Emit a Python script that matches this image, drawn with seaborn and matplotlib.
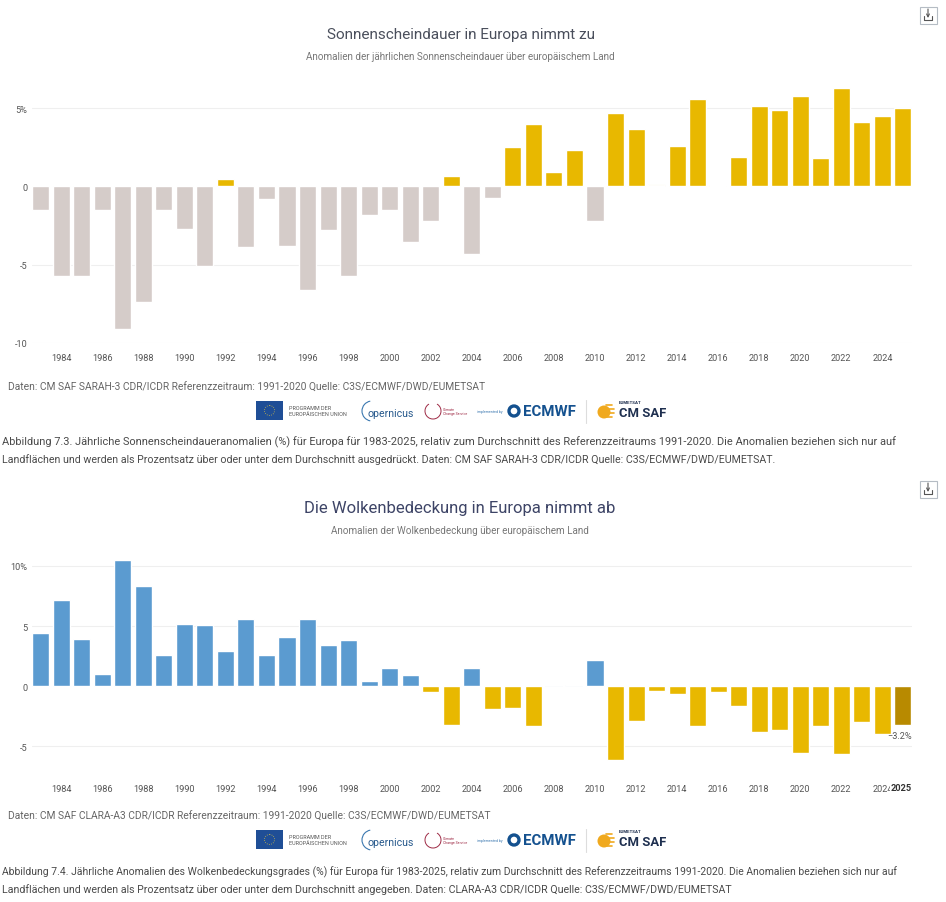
#!/usr/bin/env python
"""Sunshine duration and cloud cover anomalies over Europe, two stacked bar charts."""
import matplotlib
matplotlib.use("Agg")
import matplotlib.pyplot as plt
import pandas as pd
import seaborn as sns
from matplotlib.patches import Arc, Circle, Rectangle

W, H = 946, 903
YEARS = list(range(1983, 2026))
YEAR_TICKS = list(range(1984, 2025, 2))

SUNSHINE = [
    -1.5, -5.7, -5.7, -1.5, -9.1, -7.4, -1.5, -2.7, -5.1, 0.45, -3.9,
    -0.8, -3.8, -6.6, -2.8, -5.7, -1.8, -1.5, -3.55, -2.2, 0.65, -4.35,
    -0.75, 2.5, 4.0, 0.9, 2.35, -2.2, 4.7, 3.65, 0.06, 2.55, 5.6,
    0.05, 1.85, 5.15, 4.9, 5.75, 1.8, 6.3, 4.1, 4.5, 5.0,
]
CLOUD = [
    4.45, 7.2, 3.9, 1.0, 10.45, 8.35, 2.55, 5.2, 5.05, 2.95, 5.6,
    2.55, 4.05, 5.6, 3.4, 3.8, 0.4, 1.55, 0.9, -0.5, -3.2, 1.55,
    -1.9, -1.85, -3.35, 0.05, 0.05, 2.2, -6.15, -2.9, -0.4, -0.65, -3.3,
    -0.5, -1.65, -3.8, -3.65, -5.55, -3.3, -5.65, -3.0, -4.0, -3.2,
]

YELLOW = "#E8B800"
GREY = "#D5CCC9"
BLUE = "#5B9BD0"
DARK = "#B88A00"
GRID = "#EFEFEF"
TICK = "#555555"
FONT = "Roboto"
NARROW = ["Liberation Sans Narrow", "Roboto"]

TITLE_1 = "Sonnenscheindauer in Europa nimmt zu"
SUB_1 = "Anomalien der jährlichen Sonnenscheindauer über europäischem Land"
SOURCE_1 = "Daten: CM SAF SARAH-3 CDR/ICDR Referenzzeitraum: 1991-2020 Quelle: C3S/ECMWF/DWD/EUMETSAT"
CAPTION_1 = [
    "Abbildung 7.3. Jährliche Sonnenscheindaueranomalien (%) für Europa für 1983-2025, relativ zum Durchschnitt des Referenzzeitraums 1991-2020. Die Anomalien beziehen sich nur auf",
    "Landflächen und werden als Prozentsatz über oder unter dem Durchschnitt ausgedrückt. Daten: CM SAF SARAH-3 CDR/ICDR Quelle: C3S/ECMWF/DWD/EUMETSAT.",
]
TITLE_2 = "Die Wolkenbedeckung in Europa nimmt ab"
SUB_2 = "Anomalien der Wolkenbedeckung über europäischem Land"
SOURCE_2 = "Daten: CM SAF CLARA-A3 CDR/ICDR Referenzzeitraum: 1991-2020 Quelle: C3S/ECMWF/DWD/EUMETSAT"
CAPTION_2 = [
    "Abbildung 7.4. Jährliche Anomalien des Wolkenbedeckungsgrades (%) für Europa für 1983-2025, relativ zum Durchschnitt des Referenzzeitraums 1991-2020. Die Anomalien beziehen sich nur auf",
    "Landflächen und werden als Prozentsatz über oder unter dem Durchschnitt angegeben. Daten: CLARA-A3 CDR/ICDR Quelle: C3S/ECMWF/DWD/EUMETSAT",
]


def px_axes(fig, left, top, right, bottom):
    return fig.add_axes([left / W, 1 - bottom / H, (right - left) / W, (bottom - top) / H])


def bars(ax, values, colors, ylim, yticks, ylabels, pad):
    df = pd.DataFrame({"year": [str(y) for y in YEARS], "value": values, "kind": colors})
    palette = {c: c for c in set(colors)}
    sns.barplot(data=df, x="year", y="value", hue="kind", palette=palette, dodge=False,
                legend=False, width=0.83, saturation=1, ax=ax, zorder=3)
    # bars under a pixel tall vanish when snapped
    for patch in ax.patches:
        if abs(patch.get_height()) < 0.2:
            patch.set_snap(False)
            patch.set_height(patch.get_height() * 1.5)
    ax.set_xlim(-0.42, 42.44)
    ax.set_ylim(*ylim)
    ax.set_xlabel("")
    ax.set_ylabel("")
    ax.set_yticks(yticks, ylabels)
    ax.set_xticks([YEARS.index(y) for y in YEAR_TICKS], [str(y) for y in YEAR_TICKS])
    ax.tick_params(length=0, labelsize=6.6, labelcolor=TICK)
    ax.tick_params(axis="x", pad=pad)
    ax.tick_params(axis="y", pad=3.5)
    ax.grid(axis="y", color=GRID, lw=0.8, zorder=0)
    ax.grid(axis="x", visible=False)
    for line, tick in zip(ax.get_ygridlines(), yticks):
        if tick == 0:
            line.set_visible(False)
    sns.despine(ax=ax, left=True, bottom=True)
    ax.patch.set_alpha(0)


def logos(ov, dy):
    # partner logo strip, drawn roughly
    ov.add_patch(Rectangle((256, 402 + dy), 27, 19, color="#1F4E96", lw=0))
    ov.add_patch(Circle((269.5, 411.5 + dy), 5, fill=False, ec="#C9B64A", lw=0.6, ls=":"))
    ov.text(289, 409 + dy, "PROGRAMM DER", fontsize=3.9, color="#555555", va="center")
    ov.text(289, 415 + dy, "EUROPÄISCHEN UNION", fontsize=3.9, color="#555555", va="center")
    ov.add_patch(Arc((372, 412 + dy), 20, 20, theta1=100, theta2=260, ec="#3B78B0", lw=0.8))
    ov.text(367, 414 + dy, "opernicus", fontsize=7.6, color="#27598C", va="center")
    ov.add_patch(Arc((433, 412 + dy), 16, 16, theta1=300, theta2=240, ec="#9E2A45", lw=0.7))
    ov.text(443, 412 + dy, "Climate\nChange Service", fontsize=2.5, color="#9E2A45", va="center")
    ov.text(477, 412 + dy, "implemented by", fontsize=2.6, color="#3B78B0", va="center")
    ov.add_patch(Circle((514, 412 + dy), 5, fill=False, ec="#14518F", lw=2.4))
    ov.text(522.5, 412 + dy, "ECMWF", fontsize=10.8, fontweight="bold", color="#14518F", va="center")
    ov.plot([586, 586], [401 + dy, 424 + dy], color="#DDDDDD", lw=0.8)
    ov.add_patch(Circle((604, 413 + dy), 6.5, color="#F0A91E", lw=0))
    for y, x_end in [(406, 612), (410, 614), (414, 614), (418, 612)]:
        ov.plot([606, x_end], [y + dy, y + dy], color="#F0A91E", lw=1.2)
    ov.text(619, 403.5 + dy, "EUMETSAT", fontsize=3.2, fontweight="bold", color="#1E2F4F", va="center")
    ov.text(619, 414 + dy, "CM SAF", fontsize=9.4, fontweight="bold", color="#1E2F4F", va="center")


def download_icon(ov, dy):
    ov.add_patch(Rectangle((919.5, 7.5 + dy), 17, 17, fill=False, ec="#B5BCC4", lw=0.8))
    ov.plot([924, 924, 932, 932], [17 + dy, 21 + dy, 21 + dy, 17 + dy], color="#555555", lw=0.8)
    ov.annotate("", xy=(928, 19 + dy), xytext=(928, 10 + dy),
                arrowprops=dict(arrowstyle="->", color="#555555", lw=0.8, mutation_scale=5,
                                shrinkA=0, shrinkB=0))


def main():
    sns.set_theme(style="white")
    plt.rcParams["font.family"] = [FONT, "DejaVu Sans"]
    fig = plt.figure(figsize=(W / 100, H / 100), dpi=100, facecolor="white")

    # top chart
    ax1 = px_axes(fig, 32, 80.5, 912, 343.8)
    colors1 = [YELLOW if v > 0 else GREY for v in SUNSHINE]
    bars(ax1, SUNSHINE, colors1, (-10, 6.83), [5, 0, -5, -10], ["5%", "0", "-5", "-10"], 7.5)

    # bottom chart
    ax2 = px_axes(fig, 32, 556.5, 912, 775.5)
    colors2 = [BLUE if v > 0 else YELLOW for v in CLOUD]
    colors2[-1] = DARK
    bars(ax2, CLOUD, colors2, (-7.34, 10.86), [10, 5, 0, -5], ["10%", "5", "0", "-5"], 6.5)
    ax2.annotate(f"{CLOUD[-1]:.1f}%".replace("-", "\u2212"), xy=(42.44, CLOUD[-1]), xytext=(0, -8),
                 textcoords="offset points", ha="right", va="center", fontsize=6.6, color=TICK,
                 annotation_clip=False, zorder=5)
    label = ax2.text(42.44, -8.05, "2025", ha="right", va="top", fontsize=6.6,
                     fontweight="bold", color="#333333", zorder=6,
                     bbox=dict(facecolor="white", edgecolor="none", pad=0.4))
    label.set_clip_on(False)

    # text and logos in pixel coordinates
    ov = fig.add_axes([0, 0, 1, 1], zorder=10)
    ov.set_xlim(0, W)
    ov.set_ylim(H, 0)
    ov.axis("off")
    ov.patch.set_alpha(0)

    ov.text(460.5, 34.5, TITLE_1, ha="center", va="center", fontsize=11, color="#4A4F5C")
    ov.text(460.5, 57, SUB_1, ha="center", va="center", fontsize=7.1, color="#777777", family=NARROW)
    ov.text(8, 388, SOURCE_1, va="center", fontsize=7.4, color="#666666", family=NARROW)
    ov.text(2, 442, CAPTION_1[0], va="center", fontsize=7.9, color="#4A4A4A")
    ov.text(2, 460, CAPTION_1[1], va="center", fontsize=7.66, color="#4A4A4A")
    logos(ov, 0)
    download_icon(ov, 0)

    ov.text(459.5, 509, TITLE_2, ha="center", va="center", fontsize=12, color="#3D4466", family=NARROW)
    ov.text(460, 531, SUB_2, ha="center", va="center", fontsize=7.1, color="#777777", family=NARROW)
    ov.text(8, 817, SOURCE_2, va="center", fontsize=7.4, color="#666666", family=NARROW)
    ov.text(2, 872, CAPTION_2[0], va="center", fontsize=7.5, color="#4A4A4A")
    ov.text(2, 890, CAPTION_2[1], va="center", fontsize=7.7, color="#4A4A4A")
    logos(ov, 429)
    download_icon(ov, 474)

    fig.savefig("out.png", dpi=100)
    plt.close(fig)


if __name__ == "__main__":
    main()
